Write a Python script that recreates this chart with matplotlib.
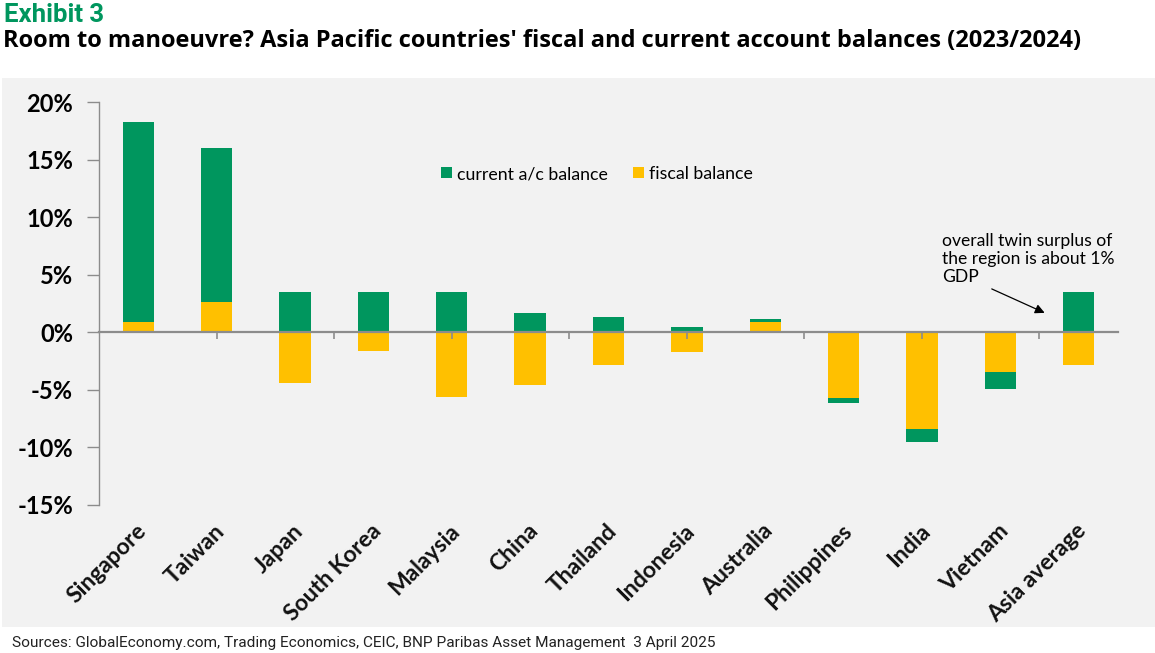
import numpy as np
import matplotlib
matplotlib.use("Agg")
import matplotlib.pyplot as plt
from matplotlib.patches import Rectangle
from matplotlib.ticker import FuncFormatter
import matplotlib.transforms as mtransforms

countries = ["Singapore", "Taiwan", "Japan", "South Korea", "Malaysia", "China",
             "Thailand", "Indonesia", "Australia", "Philippines", "India",
             "Vietnam", "Asia average"]
fiscal_balance = [0.9, 2.6, -4.4, -1.6, -5.6, -4.6, -2.8, -1.7, 0.9, -5.7, -8.4, -3.4, -2.8]
current_ac_balance = [17.4, 13.4, 3.5, 3.5, 3.5, 1.7, 1.3, 0.45, 0.25, -0.4, -1.1, -1.5, 3.5]
y_ticks = [-15, -10, -5, 0, 5, 10, 15, 20]

GREEN = "#00965E"
YELLOW = "#FFC000"
BG = "#F2F2F2"
AXIS = "#8C8C8C"

W, H = 1155, 653
fig = plt.figure(figsize=(W / 100, H / 100), dpi=100)
fig.patch.set_facecolor("white")
bg = Rectangle((2 / W, 1 - 627 / H), 1 - 2 / W, (627 - 78) / H,
               transform=fig.transFigure, facecolor=BG, edgecolor="none", zorder=-10)
fig.patches.append(bg)

left, right = 99.3 / W, 1117.7 / W
bottom, top = 1 - 505 / H, 1 - 102.3 / H
ax = fig.add_axes([left, bottom, right - left, top - bottom])
ax.set_facecolor("none")

x = np.arange(len(countries))
fb = np.array(fiscal_balance)
ca = np.array(current_ac_balance)
ca_bottom = np.where(np.sign(ca) == np.sign(fb), fb, 0.0)

ax.bar(x, fb, width=0.4, color=YELLOW, label="fiscal balance", zorder=2)
ax.bar(x, ca, width=0.4, bottom=ca_bottom, color=GREEN, label="current a/c balance", zorder=2)

ax.set_xlim(-0.5, len(countries) - 0.5)
ax.set_ylim(y_ticks[0], y_ticks[-1])

for s in ["top", "right", "bottom"]:
    ax.spines[s].set_visible(False)
ax.spines["left"].set_color(AXIS)
ax.spines["left"].set_linewidth(1.0)

ax.set_yticks(y_ticks)
ax.yaxis.set_major_formatter(FuncFormatter(lambda v, p: f"{v:.0f}%"))
ax.tick_params(axis="y", direction="out", length=9, width=1, color=AXIS, pad=10,
               labelsize=17, labelcolor="black")
for lab in ax.get_yticklabels():
    lab.set_fontfamily("Lato")
    lab.set_fontweight("bold")

# category labels
ax.set_xticks(x)
ax.set_xticklabels(countries, rotation=45, ha="right", rotation_mode="anchor",
                   fontsize=16.5, fontfamily="Lato", fontweight="bold", color="#111111")
ax.tick_params(axis="x", length=0, pad=11)
for lab in ax.get_xticklabels():
    lab.set_transform(lab.get_transform() + mtransforms.ScaledTranslation(-2 / 72, 0, fig.dpi_scale_trans))

# zero line with tick marks
zero_frac = (0 - y_ticks[0]) / (y_ticks[-1] - y_ticks[0])
sec = ax.secondary_xaxis(zero_frac)
sec.set_xticks(np.arange(1, len(countries) - 0.9, 1.5))
sec.tick_params(direction="out", length=5, width=1.2, color=AXIS, labelbottom=False, labeltop=False)
sec.spines["bottom"].set_color(AXIS)
sec.spines["bottom"].set_linewidth(1.6)
sec.set_zorder(3)

handles, labels = ax.get_legend_handles_labels()
leg = ax.legend(handles[::-1], labels[::-1], ncol=2, frameon=False,
                loc="center", bbox_to_anchor=(597 / W, 1 - 174 / H),
                bbox_transform=fig.transFigure, handlelength=0.6, handleheight=0.6,
                handletextpad=0.3, columnspacing=1.4,
                prop={"family": "Lato", "size": 12.8})

ax.annotate("", xy=(11.6, 1.6), xytext=(10.86, 3.88),
            arrowprops=dict(arrowstyle="-|>", color="black", lw=0.9, mutation_scale=14),
            zorder=4)
ax.text(10.26, 8.6, "overall twin surplus of\nthe region is about 1%\nGDP",
        ha="left", va="top", fontsize=12.6, fontfamily="Lato", linespacing=1.15,
        color="black")

fig.text(4 / W, 1 - 21.7 / H, "Exhibit 3", color=GREEN, fontsize=18.5, fontweight="bold",
         fontfamily="Roboto", ha="left", va="baseline")
fig.text(3 / W, 1 - 46.7 / H,
         "Room to manoeuvre? Asia Pacific countries' fiscal and current account balances (2023/2024)",
         color="black", fontsize=17, fontweight="bold", fontfamily="Open Sans", ha="left", va="baseline")
fig.text(12 / W, 1 - 646.5 / H,
         "Sources: GlobalEconomy.com, Trading Economics, CEIC, BNP Paribas Asset Management  3 April 2025",
         color="#222222", fontsize=11.1, fontfamily="Roboto", ha="left", va="baseline")

fig.savefig("out.png", dpi=100, facecolor=fig.get_facecolor())
